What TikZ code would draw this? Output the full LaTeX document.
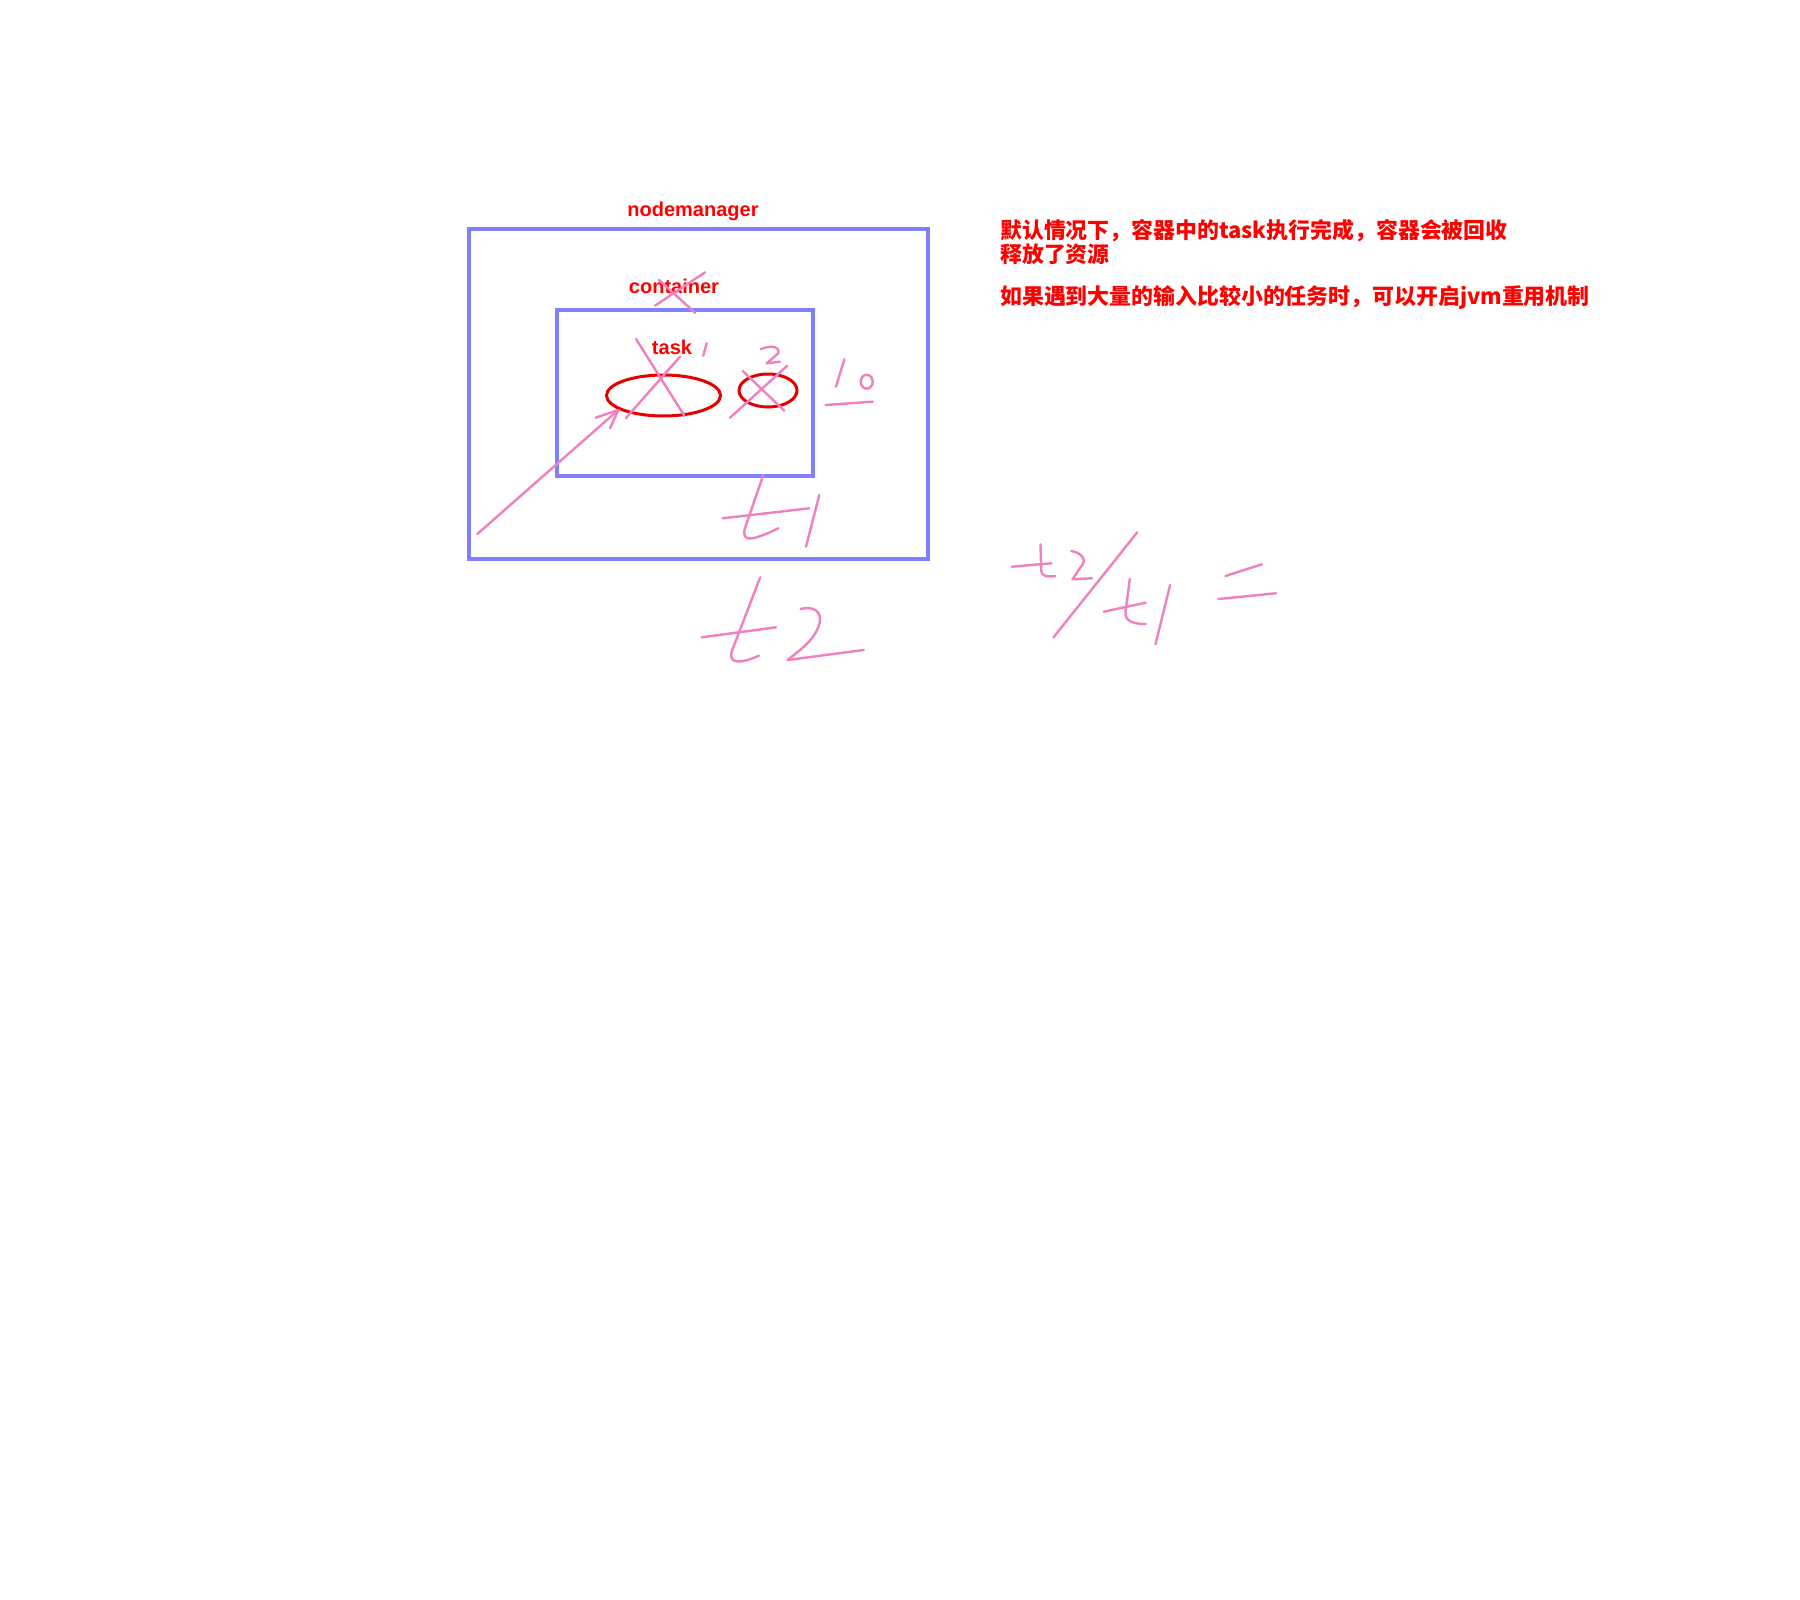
\documentclass[tikz,border=0pt]{standalone}
\usepackage{fontspec}
\setmainfont{Liberation Sans}
\newfontfamily\cjk{Noto Sans CJK SC}
\usetikzlibrary{shapes.geometric,backgrounds}
\definecolor{boxblue}{RGB}{128,128,255}
\definecolor{inkpink}{RGB}{240,128,190}
\definecolor{lblred}{RGB}{255,0,0}
\definecolor{ellred}{RGB}{230,0,0}
\tikzset{
  box/.style={draw=boxblue, line width=4pt, rectangle, inner sep=0pt, outer sep=0pt},
  boxshadow/.style={draw=black, draw opacity=0.22, line width=4.5pt},
  taskell/.style={draw=ellred, line width=3pt, ellipse, inner sep=0pt, outer sep=0pt},
  ellshadow/.style={draw=black, draw opacity=0.18, line width=3.5pt},
  lbl/.style={text=lblred, font=\bfseries\fontsize{20}{22}\selectfont, inner sep=0pt},
  note/.style={text=lblred, font=\cjk\bfseries\fontsize{21.9}{23}\selectfont, inner sep=0pt, anchor=west},
  ink/.style={draw=inkpink, line width=2.4pt, line cap=round, line join=round},
}
\begin{document}
\begin{tikzpicture}[x=1pt,y=-1pt]
\useasboundingbox (0,0) rectangle (1800,1600);
\fill[white] (0,0) rectangle (1800,1600);

% boxes
\node[box, minimum width=459pt, minimum height=330pt] (outer) at (698.5,394) {};
\node[box, minimum width=256pt, minimum height=166pt] (inner) at (685,393) {};

% tasks
\node[taskell, minimum width=114pt, minimum height=41pt] (task1) at (663.5,395.5) {};
\node[taskell, minimum width=58pt, minimum height=33pt] (task2) at (768,390.5) {};

% shadows
\begin{scope}[on background layer]
  \draw[boxshadow] ([shift={(3,3)}]outer.north west) rectangle ([shift={(3,3)}]outer.south east);
  \draw[boxshadow] ([shift={(3,3)}]inner.north west) rectangle ([shift={(3,3)}]inner.south east);
  \draw[ellshadow] (665.5,397.5) ellipse [x radius=57pt, y radius=20.5pt];
  \draw[ellshadow] (770,392.5) ellipse [x radius=29pt, y radius=16.5pt];
\end{scope}

% labels
\node[lbl] (nmlbl) at (693,211) {nodemanager};
\node[lbl] (ctlbl) at (674,286) {container};
\node[lbl] (tklbl) at (672,347) {task};

% notes
\node[note] (note1) at (1000,231) {默认情况下，容器中的task执行完成，容器会被回收};
\node[note] (note2) at (1000,254) {释放了资源};
\node[note] (note3) at (1000,297) {如果遇到大量的输入比较小的任务时，可以开启jvm重用机制};

% handwriting: cross over container label
\draw[ink] (659,280) -- (695,312.7);
\draw[ink] (655,305.7) -- (705,272.3);
% cross over task 1
\draw[ink] (636,339) -- (684.3,415.7);
\draw[ink] (625.7,418.3) -- (680,356.7);
% "1"
\draw[ink] (703.3,355.7) -- (706.7,343.3);
% "2"
\draw[ink] (760.7,349.3) .. controls (770,345) and (780,346) .. (778.3,353.3) -- (766.7,363.3) -- (780,361.7);
% cross over task 2
\draw[ink] (730,417.7) -- (787.3,365.7);
\draw[ink] (742.7,371) -- (784.3,410.7);
% "10" with underline
\draw[ink] (844.3,359.3) -- (836,386.7);
\draw[ink] (866.7,381.7) ellipse [x radius=6pt, y radius=7pt];
\draw[ink] (825.7,405) -- (872.7,401.7);

% arrow into task 1
\coordinate (arrS) at (477.3,534);
\coordinate (arrE) at (618.3,410);
\draw[ink] (arrS) -- (arrE);
\draw[ink] (595.7,417.7) -- (arrE);
\draw[ink] (610,428.3) -- (arrE);

% t1
\draw[ink] (763.3,475) -- (745,528) .. controls (741,543) and (752,541) .. (778.3,528.3);
\draw[ink] (722.7,518.3) -- (809.3,508.3);
\draw[ink] (819.3,495) -- (806,546.7);

% t2
\draw[ink] (760.2,577.3) -- (731.5,652) .. controls (729,664) and (740,664) .. (759,655.7);
\draw[ink] (701.7,637.3) -- (776,627.3);
\draw[ink] (800.6,609) .. controls (812,606) and (825,610) .. (818,628) .. controls (812,642) and (800,650) .. (787.5,660) -- (863.8,650);

% t2 / t1 =
\draw[ink] (1040.5,544.3) -- (1041.2,570) .. controls (1041.5,577) and (1048,577) .. (1055.5,576);
\draw[ink] (1012,566.7) -- (1051.5,563.3);
\draw[ink] (1071.3,551) .. controls (1082,553) and (1088,560) .. (1080,568) -- (1072.5,579.3) -- (1091.9,578.3);
\draw[ink] (1137.3,532.3) -- (1053.5,637.3);
\draw[ink] (1129.8,579) -- (1125.5,612) .. controls (1124.5,622) and (1135,624) .. (1145.6,624);
\draw[ink] (1103.7,611.7) -- (1145.6,602.7);
\draw[ink] (1170.1,585) -- (1155.5,644.3);
\draw[ink] (1225.4,576) -- (1261.8,564.3);
\draw[ink] (1218.3,599) -- (1276,593.3);
\end{tikzpicture}
\end{document}
